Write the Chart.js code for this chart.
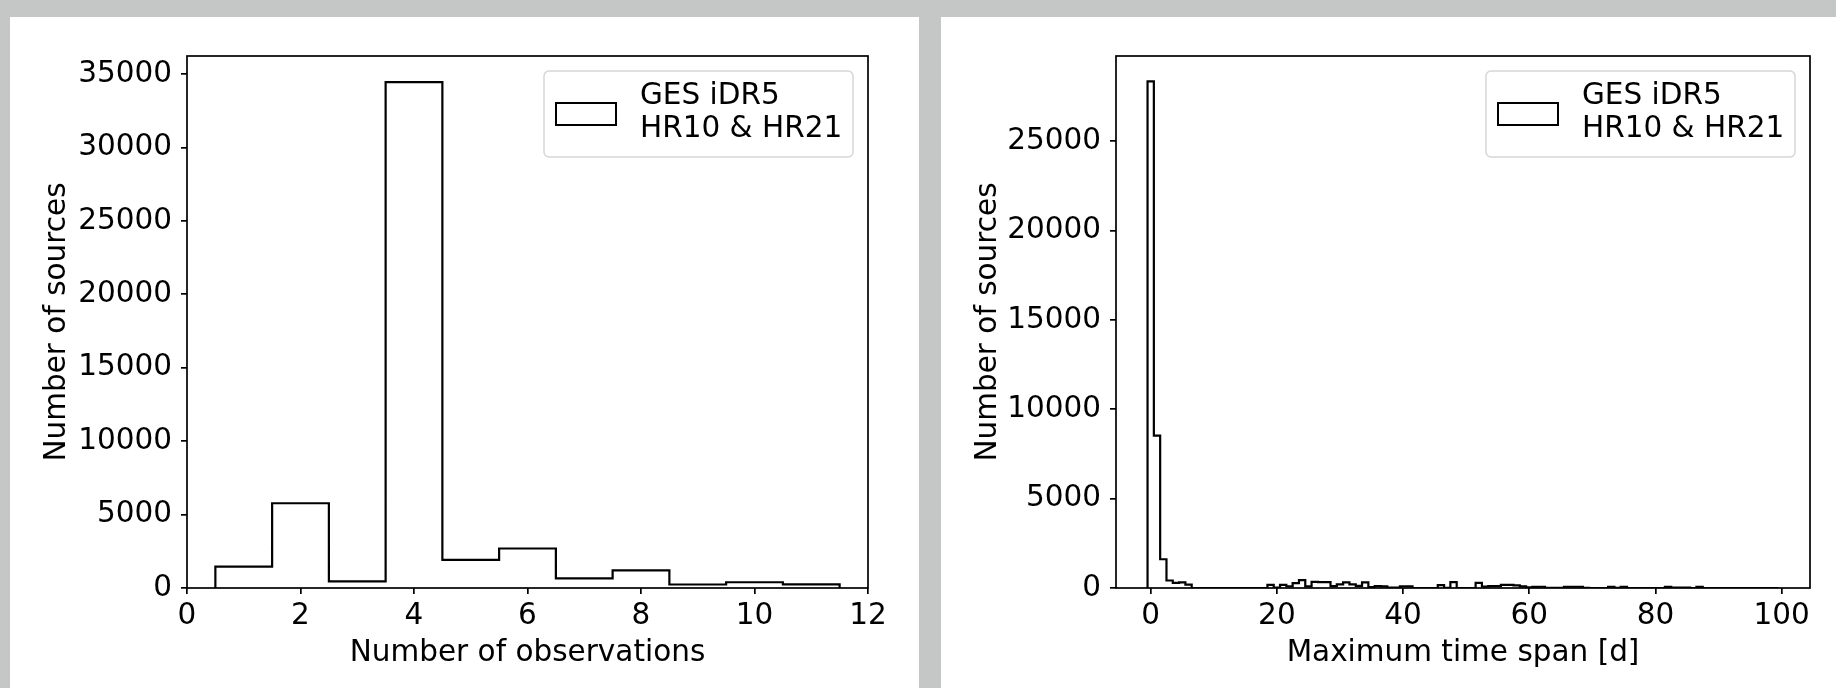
<!DOCTYPE html>
<html>
<head>
<meta charset="utf-8">
<script src="https://cdn.jsdelivr.net/npm/chart.js@4.4.0/dist/chart.umd.min.js"></script>
<style>
  html, body { margin: 0; padding: 0; background: #c5c7c6; width: 1836px; height: 688px; overflow: hidden; }
  .card { position: absolute; background: #fff; }
  #card-obs { left: 10px; top: 17px; width: 909px; height: 671px; }
  #card-span { left: 941px; top: 17px; width: 895px; height: 671px; }
  canvas { display: block; }
</style>
</head>
<body>
<div class="card" id="card-obs"><canvas id="chart-obs"></canvas></div>
<div class="card" id="card-span"><canvas id="chart-span"></canvas></div>
<script>
// --- data ---
const legendText = ['GES iDR5', 'HR10 & HR21'];

// left: number of observations (bins of width 1 centred on integers)
const obsBins   = [1, 2, 3, 4, 5, 6, 7, 8, 9, 10, 11];
const obsCounts = [1450, 5770, 450, 34450, 1910, 2690, 660, 1200, 240, 390, 250];
const obsXTicks = [0, 2, 4, 6, 8, 10, 12];
const obsYTicks = [0, 5000, 10000, 15000, 20000, 25000, 30000, 35000];

// right: maximum time span in days, 1-day bins centred on 0..99
const spanCounts = [
  28350, 8530, 1610, 420, 290, 320, 190, 0, 0, 0,
  0, 0, 0, 0, 0, 0, 0, 0, 0, 180,
  20, 170, 90, 270, 440, 90, 340, 330, 330, 100,
  200, 310, 200, 120, 320, 50, 100, 90, 20, 20,
  90, 90, 0, 0, 0, 0, 160, 10, 330, 0,
  0, 0, 290, 80, 110, 110, 180, 180, 150, 90,
  30, 60, 70, 10, 10, 10, 70, 70, 70, 10,
  0, 0, 0, 70, 10, 70, 0, 0, 0, 0,
  0, 0, 60, 20, 20, 20, 0, 60, 0, 0,
  0, 0, 0, 0, 0, 0, 0, 0, 0, 0
];
const spanBins   = spanCounts.map((_, i) => i);
const spanXTicks = [0, 20, 40, 60, 80, 100];
const spanYTicks = [0, 5000, 10000, 15000, 20000, 25000];

const FONT = 'DejaVu Sans';

// outline of a step histogram, like histtype='step'
function stepOutline(centres, counts, width) {
  const pts = [{ x: centres[0] - width / 2, y: 0 }];
  centres.forEach((c, i) => {
    pts.push({ x: c - width / 2, y: counts[i] });
    pts.push({ x: c + width / 2, y: counts[i] });
  });
  pts.push({ x: centres[centres.length - 1] + width / 2, y: 0 });
  return pts;
}

// box around the axes + matplotlib style legend in the upper right
const boxLegend = {
  id: 'boxLegend',
  afterDraw(chart) {
    const { ctx, chartArea: a } = chart;
    ctx.save();
    ctx.strokeStyle = '#000';
    ctx.lineWidth = 1.7;
    ctx.strokeRect(a.left, a.top, a.right - a.left, a.bottom - a.top);

    const w = 309, h = 86;
    const x = a.right - 15 - w, y = a.top + 15;
    ctx.beginPath();
    ctx.roundRect(x, y, w, h, 5);
    ctx.fillStyle = 'rgba(255,255,255,0.8)';
    ctx.fill();
    ctx.strokeStyle = '#d6d6d6';
    ctx.lineWidth = 1.5;
    ctx.stroke();

    ctx.strokeStyle = '#000';
    ctx.lineWidth = 2;
    ctx.strokeRect(x + 12, y + h / 2 - 11, 60, 22);

    ctx.fillStyle = '#000';
    ctx.font = '29.5px "' + FONT + '"';
    ctx.textBaseline = 'middle';
    ctx.textAlign = 'left';
    const lines = chart.data.datasets[0].label;
    ctx.fillText(lines[0], x + 96, y + 25);
    ctx.fillText(lines[1], x + 96, y + 58);
    ctx.restore();
  }
};

function makeChart(id, centres, counts, opts) {
  const canvas = document.getElementById(id);
  return new Chart(canvas, {
    type: 'line',
    data: {
      datasets: [{
        label: legendText,
        data: stepOutline(centres, counts, 1),
        borderColor: '#000',
        borderWidth: 2.2,
        pointRadius: 0,
        tension: 0,
        fill: false,
        borderJoinStyle: 'miter'
      }]
    },
    options: {
      responsive: true,
      maintainAspectRatio: false,
      animation: false,
      layout: { padding: { top: 39, right: opts.padRight, left: 0, bottom: 0 } },
      plugins: { legend: { display: false }, tooltip: { enabled: false } },
      scales: {
        x: {
          type: 'linear',
          min: opts.xMin, max: opts.xMax,
          afterFit: s => { s.height = 100; },
          afterBuildTicks: s => { s.ticks = opts.xTicks.map(v => ({ value: v })); },
          border: { display: false },
          grid: { display: true, drawOnChartArea: false, drawTicks: true, tickLength: 6, color: '#000', lineWidth: 1.7 },
          ticks: { color: '#000', padding: 5, maxRotation: 0, font: { family: FONT, size: 29.5 }, callback: v => String(v) },
          title: { display: true, text: opts.xTitle, color: '#000', padding: { top: 0, bottom: 17 }, font: { family: FONT, size: 29.5 } }
        },
        y: {
          min: 0, max: opts.yMax,
          afterFit: s => { s.width = opts.yWidth; },
          afterBuildTicks: s => { s.ticks = opts.yTicks.map(v => ({ value: v })); },
          border: { display: false },
          grid: { display: true, drawOnChartArea: false, drawTicks: true, tickLength: 6, color: '#000', lineWidth: 1.7 },
          ticks: { color: '#000', padding: 9, font: { family: FONT, size: 29.5 }, callback: v => String(v) },
          title: { display: true, text: 'Number of sources', color: '#000', padding: { top: 30, bottom: 0 }, font: { family: FONT, size: 29.5 } }
        }
      }
    },
    plugins: [boxLegend]
  });
}

makeChart('chart-obs', obsBins, obsCounts, {
  xMin: 0, xMax: 12, yMax: 36225, padRight: 51, yWidth: 177,
  xTicks: obsXTicks, yTicks: obsYTicks, xTitle: 'Number of observations'
});

makeChart('chart-span', spanBins, spanCounts, {
  xMin: -5.5, xMax: 104.5, yMax: 29770, padRight: 26, yWidth: 175,
  xTicks: spanXTicks, yTicks: spanYTicks, xTitle: 'Maximum time span [d]'
});
</script>
</body>
</html>
